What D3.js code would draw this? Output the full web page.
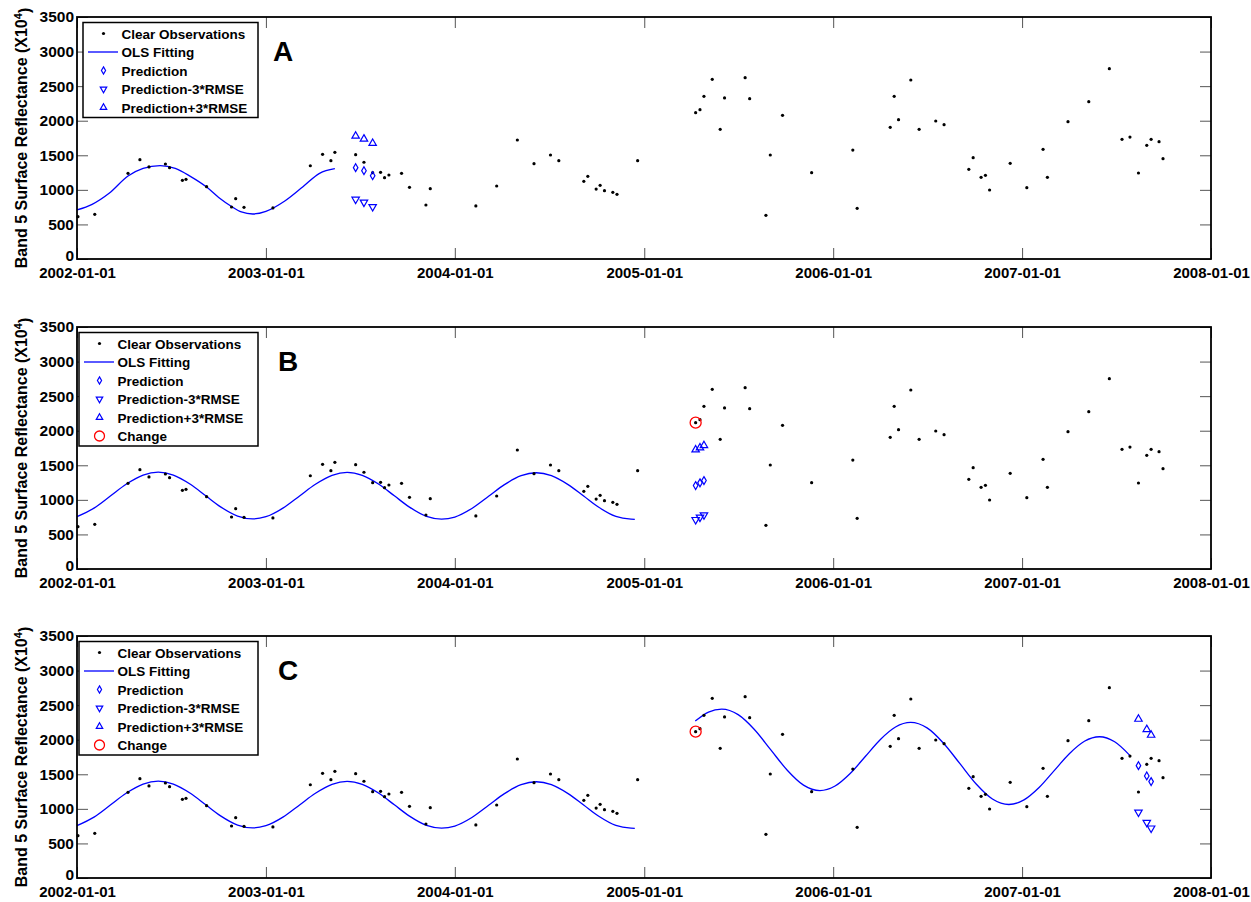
<!DOCTYPE html>
<html>
<head>
<meta charset="utf-8">
<script src="https://cdn.jsdelivr.net/npm/d3@7"></script>
<style>
body { margin: 0; background: #fff; }
text { font-family: "Liberation Sans", Arial, sans-serif; font-weight: bold; }
</style>
</head>
<body>
<div id="chart"></div>
<script>
// clear observations (decimal year, band 5 reflectance x10^4)
var obsYears = [2002.005, 2002.094, 2002.27, 2002.333, 2002.381, 2002.468, 2002.49, 2002.558, 2002.577, 2002.686,
    2002.818, 2002.84, 2002.884, 2003.037, 2003.235, 2003.30, 2003.344, 2003.365, 2003.475, 2003.519,
    2003.565, 2003.607, 2003.628, 2003.651, 2003.718, 2003.76, 2003.847, 2003.87, 2004.111, 2004.221,
    2004.33, 2004.418, 2004.505, 2004.549, 2004.681, 2004.702, 2004.746, 2004.767, 2004.79, 2004.834,
    2004.856, 2004.965, 2005.272, 2005.295, 2005.316, 2005.36, 2005.402, 2005.425, 2005.534, 2005.558,
    2005.644, 2005.667, 2005.732, 2005.886, 2006.104, 2006.127, 2006.302, 2006.323, 2006.346, 2006.411,
    2006.455, 2006.543, 2006.587, 2006.718, 2006.741, 2006.783, 2006.806, 2006.828, 2006.937, 2007.025,
    2007.111, 2007.134, 2007.243, 2007.353, 2007.462, 2007.529, 2007.571, 2007.616, 2007.66, 2007.683,
    2007.725, 2007.746];
var obsValues = [612, 646, 1239, 1436, 1331, 1374, 1321, 1138, 1152, 1046,
    752, 872, 748, 738, 1349, 1514, 1422, 1543, 1509, 1399,
    1248, 1254, 1176, 1215, 1239, 1037, 781, 1017, 767, 1056,
    1721, 1378, 1504, 1422, 1124, 1196, 1012, 1066, 988, 964,
    935, 1422, 2116, 2160, 2353, 2598, 1876, 2329, 2622, 2319,
    632, 1504, 2078, 1248, 1576, 733, 1904, 2353, 2015, 2589,
    1876, 1996, 1943, 1297, 1465, 1181, 1210, 998, 1384, 1031,
    1586, 1181, 1986, 2275, 2752, 1731, 1764, 1244, 1644, 1731,
    1697, 1451];

// OLS fitted curves
var fitAYears = [2002.00, 2002.08, 2002.17, 2002.27, 2002.35, 2002.44, 2002.52, 2002.60, 2002.686, 2002.75,
    2002.818, 2002.87, 2002.93, 2003.00, 2003.10, 2003.196, 2003.284, 2003.365];
var fitAValues = [709, 790, 950, 1200, 1310, 1350, 1310, 1195, 1040, 890,
    760, 680, 651, 690, 840, 1046, 1239, 1306];

var fitBYears = [2002.00, 2002.09, 2002.18, 2002.26, 2002.35, 2002.43, 2002.51, 2002.60, 2002.68, 2002.76, 2002.85, 2002.93,
    2003.00, 2003.09, 2003.18, 2003.26, 2003.35, 2003.43, 2003.51, 2003.60, 2003.68, 2003.76, 2003.85, 2003.93,
    2004.00, 2004.09, 2004.18, 2004.26, 2004.35, 2004.43, 2004.51, 2004.60, 2004.68, 2004.76, 2004.85, 2004.93, 2004.95];
var fitBValues = [758, 881, 1062, 1225, 1358, 1400, 1358, 1225, 1062, 899, 766, 724,
    756, 880, 1060, 1222, 1355, 1398, 1355, 1222, 1058, 895, 762, 722,
    752, 876, 1055, 1217, 1350, 1392, 1350, 1217, 1055, 892, 760, 720, 718];

var fitC2Years = [2005.27, 2005.34, 2005.41, 2005.497, 2005.583, 2005.67, 2005.757, 2005.843, 2005.93,
    2006.01, 2006.09, 2006.17, 2006.25, 2006.33, 2006.41, 2006.497, 2006.583, 2006.67, 2006.757, 2006.843, 2006.93,
    2007.01, 2007.09, 2007.17, 2007.25, 2007.33, 2007.41, 2007.49, 2007.57];
var fitC2Values = [2269, 2400, 2442, 2363, 2148, 1853, 1559, 1343, 1264,
    1330, 1511, 1757, 2004, 2184, 2250, 2171, 1953, 1657, 1360, 1143, 1063,
    1129, 1308, 1553, 1798, 1978, 2043, 1970, 1774];

// predictions
var predAYears = [2003.475, 2003.519, 2003.565];
var predA = [1321, 1277, 1205], predALow = [863, 820, 756], predAHigh = [1779, 1736, 1673];
var predBYears = [2005.272, 2005.295, 2005.316];
var predB = [1207, 1246, 1279], predBLow = [714, 748, 782], predBHigh = [1724, 1753, 1786];
var predCYears = [2007.616, 2007.66, 2007.683];
var predC = [1625, 1476, 1394], predCLow = [952, 803, 721], predCHigh = [2298, 2149, 2067];

var changeYear = 2005.272, changeValue = 2116;

var yTickValues = [0, 500, 1000, 1500, 2000, 2500, 3000, 3500];
var panelLetters = ["A", "B", "C"];
var legendLabels = ["Clear Observations", "OLS Fitting", "Prediction", "Prediction-3*RMSE", "Prediction+3*RMSE", "Change"];
var legendTypes = ["dot", "line", "diamond", "down", "up", "circle"];

var svgWidth = 1251, svgHeight = 902;
var left = 77, right = 1211, panelHeight = 242;
var panelTops = [17, 327, 636];
var legendLeft = [83, 79, 79];
var blue = "#0000ff", red = "#ff0000";

function toDate(yr) {
    var yy = Math.floor(yr);
    var start = new Date(yy, 0, 1), end = new Date(yy + 1, 0, 1);
    return new Date(+start + (yr - yy) * (end - start));
}

var x = d3.scaleTime()
    .domain([new Date(2002, 0, 1), new Date(2008, 0, 1)])
    .range([left, right]);

var svg = d3.select("#chart").append("svg")
    .attr("width", svgWidth)
    .attr("height", svgHeight);

function zip(years, values) {
    return years.map(function(d, i) { return {date: toDate(d), value: values[i]}; });
}

function symbolPath(type, size) {
    if (type == "diamond") return d3.symbol(d3.symbolDiamond, size)();
    return d3.symbol(d3.symbolTriangle, size)();
}

function drawMarkers(g, y, years, values, type, size) {
    g.selectAll(null)
        .data(zip(years, values))
        .enter().append("path")
        .attr("d", symbolPath(type, size))
        .attr("transform", function(d) {
            return "translate(" + x(d.date) + "," + y(d.value) + ")" + (type == "down" ? " rotate(180)" : "");
        })
        .attr("fill", "none")
        .attr("stroke", blue)
        .attr("stroke-width", 1.2);
}

function drawPanel(i) {
    var top = panelTops[i], bottom = top + panelHeight;
    var y = d3.scaleLinear().domain([0, 3500]).range([bottom, top]);
    var g = svg.append("g");

    var line = d3.line()
        .x(function(d) { return x(d.date); })
        .y(function(d) { return y(d.value); })
        .curve(d3.curveMonotoneX);

    var fits = i == 0 ? [zip(fitAYears, fitAValues)]
             : i == 1 ? [zip(fitBYears, fitBValues)]
             : [zip(fitBYears, fitBValues), zip(fitC2Years, fitC2Values)];

    fits.forEach(function(f) {
        g.append("path")
            .datum(f)
            .attr("fill", "none")
            .attr("stroke", blue)
            .attr("stroke-width", 1.3)
            .attr("d", line);
    });

    // observations
    g.selectAll(null)
        .data(zip(obsYears, obsValues))
        .enter().append("circle")
        .attr("cx", function(d) { return x(d.date); })
        .attr("cy", function(d) { return y(d.value); })
        .attr("r", 1.6)
        .attr("fill", "#000");

    var py = [predAYears, predBYears, predCYears][i];
    drawMarkers(g, y, py, [predAHigh, predBHigh, predCHigh][i], "up", 24);
    drawMarkers(g, y, py, [predA, predB, predC][i], "diamond", 18);
    drawMarkers(g, y, py, [predALow, predBLow, predCLow][i], "down", 24);

    if (i > 0) {
        g.append("circle")
            .attr("cx", x(toDate(changeYear)))
            .attr("cy", y(changeValue))
            .attr("r", 5.5)
            .attr("fill", "none")
            .attr("stroke", red)
            .attr("stroke-width", 1.3);
    }

    // axes, ticks inward on all four sides
    var xb = g.append("g").attr("transform", "translate(0," + bottom + ")")
        .call(d3.axisBottom(x).ticks(d3.timeYear.every(1)).tickFormat(d3.timeFormat("%Y-%m-%d"))
            .tickSizeInner(-11).tickSizeOuter(0).tickPadding(8));
    var xt = g.append("g").attr("transform", "translate(0," + top + ")")
        .call(d3.axisTop(x).ticks(d3.timeYear.every(1)).tickFormat("").tickSizeInner(-11).tickSizeOuter(0));
    var yl = g.append("g").attr("transform", "translate(" + left + ",0)")
        .call(d3.axisLeft(y).tickValues(yTickValues).tickFormat(d3.format("d"))
            .tickSizeInner(-11).tickSizeOuter(0).tickPadding(3));
    var yr = g.append("g").attr("transform", "translate(" + right + ",0)")
        .call(d3.axisRight(y).tickValues(yTickValues).tickFormat("").tickSizeInner(-11).tickSizeOuter(0));

    [xb, xt, yl, yr].forEach(function(a) {
        a.select(".domain").remove();
        a.selectAll(".tick line").attr("stroke", "#555").attr("stroke-width", 1);
        a.selectAll(".tick text").attr("fill", "#000");
    });
    xb.selectAll(".tick text").style("font-size", "15px");
    yl.selectAll(".tick text").style("font-size", "15.5px");
    // lift the bottom "0" a touch so it clears the date label
    yl.selectAll(".tick text").filter(function(d) { return d == 0; }).attr("dy", "0.1em");

    g.append("rect")
        .attr("x", left).attr("y", top)
        .attr("width", right - left).attr("height", panelHeight)
        .attr("fill", "none")
        .attr("stroke", "#000")
        .attr("stroke-width", 1.8);

    // y label
    var lab = g.append("text")
        .attr("transform", "translate(27," + (top + panelHeight / 2) + ") rotate(-90)")
        .attr("text-anchor", "middle")
        .style("font-size", "16px");
    lab.append("tspan").text("Band 5 Surface Reflectance (X10");
    lab.append("tspan").attr("dy", "-0.5em").style("font-size", "11px").text("4");
    lab.append("tspan").attr("dy", "0.5em").text(")");

    // legend
    var n = i == 0 ? 5 : 6;
    var x0 = legendLeft[i];
    var lg = g.append("g");
    lg.append("rect")
        .attr("x", x0).attr("y", top + 5.5)
        .attr("width", 258 - x0).attr("height", 21 + (n - 1) * 18.5)
        .attr("fill", "#fff")
        .attr("stroke", "#000")
        .attr("stroke-width", 1.5);

    for (var k = 0; k < n; k++) {
        var cy = top + 16.5 + k * 18.5, sx = x0 + 20.5;
        var t = legendTypes[k];
        if (t == "dot") {
            lg.append("circle").attr("cx", sx).attr("cy", cy).attr("r", 1.6).attr("fill", "#000");
        } else if (t == "line") {
            lg.append("line").attr("x1", x0 + 5).attr("x2", x0 + 35).attr("y1", cy).attr("y2", cy)
                .attr("stroke", blue).attr("stroke-width", 1.3);
        } else if (t == "circle") {
            lg.append("circle").attr("cx", sx).attr("cy", cy).attr("r", 5)
                .attr("fill", "none").attr("stroke", red).attr("stroke-width", 1.3);
        } else {
            lg.append("path")
                .attr("d", symbolPath(t, t == "diamond" ? 15 : 18))
                .attr("transform", "translate(" + sx + "," + cy + ")" + (t == "down" ? " rotate(180)" : ""))
                .attr("fill", "none").attr("stroke", blue).attr("stroke-width", 1.2);
        }
        lg.append("text")
            .attr("x", x0 + 38.5).attr("y", cy + 5)
            .style("font-size", "13.5px")
            .text(legendLabels[k]);
    }

    g.append("text")
        .attr("x", i == 0 ? 273 : 278)
        .attr("y", top + 44)
        .style("font-size", "28px")
        .text(panelLetters[i]);
}

for (var p = 0; p < 3; p++) drawPanel(p);
</script>
</body>
</html>
